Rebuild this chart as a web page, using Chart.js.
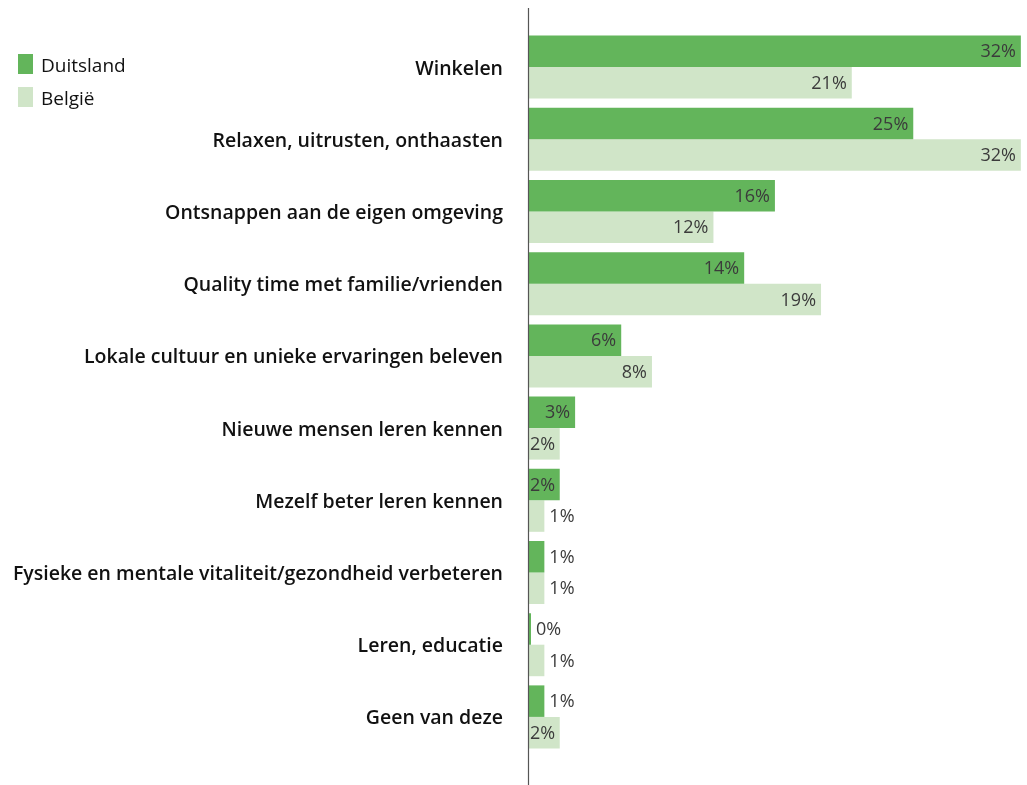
<!DOCTYPE html>
<html>
<head>
<meta charset="utf-8">
<script src="https://cdn.jsdelivr.net/npm/chart.js@4"></script>
<style>
  body { margin: 0; background: #fff; }
  #wrap { width: 1027px; height: 785px; position: relative; }
</style>
</head>
<body>
<div id="wrap"><canvas id="reasonsChart"></canvas></div>
<script>
const categories = [
  "Winkelen",
  "Relaxen, uitrusten, onthaasten",
  "Ontsnappen aan de eigen omgeving",
  "Quality time met familie/vrienden",
  "Lokale cultuur en unieke ervaringen beleven",
  "Nieuwe mensen leren kennen",
  "Mezelf beter leren kennen",
  "Fysieke en mentale vitaliteit/gezondheid verbeteren",
  "Leren, educatie",
  "Geen van deze",
];
const duitsland = [32, 25, 16, 14, 6, 3, 2, 1, 0, 1];
const belgie = [21, 32, 12, 19, 8, 2, 1, 1, 1, 2];

const seriesNames = ["Duitsland", "België"];
const seriesColors = ["#63b55b", "#d0e5c8"];

const valueFont = "500 18px 'Open Sans'";

// value labels at the end of each bar, inside when there is room
const valueLabels = {
  id: "valueLabels",
  afterDatasetsDraw(chart) {
    const ctx = chart.ctx;
    ctx.save();
    ctx.font = valueFont;
    ctx.fillStyle = "#3b3b3b";
    ctx.textBaseline = "middle";
    chart.data.datasets.forEach((ds, i) => {
      chart.getDatasetMeta(i).data.forEach((bar, j) => {
        const text = ds.data[j] + "%";
        const w = ctx.measureText(text).width;
        const len = bar.x - bar.base;
        if (len > w + 2) {
          ctx.textAlign = "right";
          ctx.fillText(text, bar.x - Math.min(5, len - w - 1), bar.y + 1);
        } else {
          ctx.textAlign = "left";
          ctx.fillText(text, bar.x + 5, bar.y + 1);
        }
      });
    });
    ctx.restore();
  },
};

// axis line that runs past the chart area, plus the legend in the top left
const extras = {
  id: "extras",
  afterDraw(chart) {
    const ctx = chart.ctx;
    const x0 = Math.round(chart.scales.x.left) + 0.5;
    ctx.save();
    ctx.strokeStyle = "#555";
    ctx.lineWidth = 1.2;
    ctx.beginPath();
    ctx.moveTo(x0 - 1, 8);
    ctx.lineTo(x0 - 1, 785);
    ctx.stroke();

    ctx.font = "400 19px 'Open Sans'";
    ctx.textBaseline = "middle";
    ctx.textAlign = "left";
    chart.data.datasets.forEach((ds, i) => {
      const y = 54 + i * 33;
      ctx.fillStyle = ds.backgroundColor;
      ctx.fillRect(18, y, 15, 20);
      ctx.fillStyle = "#111";
      ctx.fillText(ds.label, 41, y + 12.5);
    });
    ctx.restore();
  },
};

new Chart(document.getElementById("reasonsChart"), {
  type: "bar",
  data: {
    labels: categories,
    datasets: [
      { label: seriesNames[0], data: duitsland, backgroundColor: seriesColors[0], minBarLength: 2 },
      { label: seriesNames[1], data: belgie, backgroundColor: seriesColors[1], minBarLength: 2 },
    ],
  },
  options: {
    indexAxis: "y",
    responsive: true,
    maintainAspectRatio: false,
    animation: false,
    categoryPercentage: 0.873,
    barPercentage: 1,
    layout: { padding: { top: 31, bottom: 32, left: 0, right: 0 } },
    plugins: { legend: { display: false }, tooltip: { enabled: false } },
    scales: {
      x: { display: false, min: 0, max: 32.4 },
      y: {
        grid: { display: false, drawTicks: false },
        border: { display: false },
        afterFit(scale) {
          scale.width = 529;
          scale.paddingTop = 0;
          scale.paddingBottom = 0;
        },
        ticks: {
          padding: 26,
          labelOffset: 2,
          color: "#111",
          font: { family: "'Open Sans'", size: 19.5, weight: "600" },
        },
      },
    },
  },
  plugins: [valueLabels, extras],
});
</script>
</body>
</html>
